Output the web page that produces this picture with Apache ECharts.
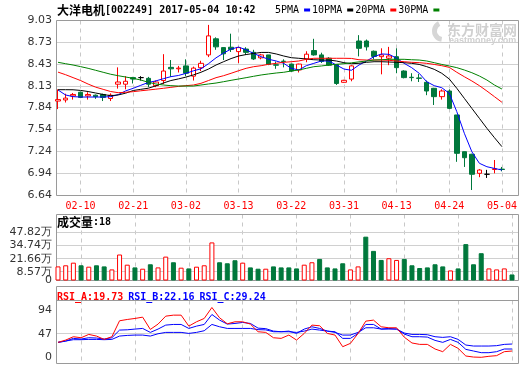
<!DOCTYPE html>
<html><head><meta charset="utf-8">
<script src="https://cdn.jsdelivr.net/npm/echarts@6/dist/echarts.min.js"></script>
<style>html,body{margin:0;padding:0;background:#fff}#c{width:520px;height:365px}</style>
</head><body><div id="c"></div>
<script>
const dates = ['02-07','02-08','02-09','02-10','02-13','02-14','02-15','02-16','02-17','02-20','02-21','02-22','02-23','02-24','02-27','02-28',
'03-01','03-02','03-03','03-06','03-07','03-08','03-09','03-10','03-13','03-14','03-15','03-16','03-17','03-20','03-21','03-22','03-23','03-24','03-27','03-28','03-29','03-30','03-31',
'04-05','04-06','04-07','04-10','04-11','04-12','04-13','04-14','04-17','04-18','04-19','04-20','04-21','04-24','04-25','04-26','04-27','04-28',
'05-02','05-03','05-04'];
const open  = [7.93,7.945,8.00,8.05,8.00,8.01,8.02,7.965,8.16,8.16,8.25,8.25,8.24,8.14,8.21,8.39,8.37,8.41,8.27,8.385,8.56,8.78,8.66,8.665,8.605,8.64,8.595,8.52,8.56,8.425,8.475,8.435,8.355,8.505,8.62,8.56,8.515,8.43,8.186,8.23,8.75,8.75,8.61,8.536,8.515,8.536,8.34,8.255,8.245,8.186,8.104,7.99,8.067,7.74,7.238,7.203,6.943,6.93,6.995,7.00];
const close = [7.95,7.97,8.02,7.98,8.02,7.99,7.98,8.01,8.19,8.20,8.23,8.25,8.16,8.19,8.34,8.37,8.38,8.31,8.38,8.445,8.82,8.67,8.575,8.635,8.66,8.595,8.505,8.56,8.43,8.42,8.47,8.34,8.435,8.57,8.56,8.47,8.42,8.17,8.213,8.41,8.65,8.67,8.54,8.56,8.545,8.386,8.25,8.25,8.24,8.067,7.99,8.067,7.83,7.216,7.156,6.93,6.988,6.93,7.005,6.995];
const low   = [7.82,7.91,7.95,7.97,7.95,7.96,7.93,7.93,8.10,8.09,8.17,8.21,8.12,8.12,8.16,8.26,8.32,8.27,8.21,8.34,8.53,8.63,8.49,8.60,8.45,8.56,8.49,8.50,8.42,8.37,8.39,8.33,8.32,8.46,8.55,8.45,8.41,8.15,8.18,8.20,8.54,8.62,8.50,8.295,8.42,8.31,8.24,8.20,8.19,8.01,7.876,7.95,7.82,7.10,7.03,6.715,6.89,6.88,6.943,6.97];
const high  = [8.09,8.03,8.04,8.06,8.05,8.02,8.03,8.035,8.39,8.27,8.26,8.27,8.26,8.21,8.57,8.49,8.41,8.50,8.40,8.48,8.97,8.80,8.665,8.85,8.67,8.665,8.63,8.575,8.56,8.47,8.50,8.44,8.44,8.61,8.78,8.59,8.53,8.43,8.22,8.42,8.83,8.77,8.62,8.65,8.67,8.65,8.35,8.31,8.30,8.21,8.11,8.09,8.09,7.74,7.24,7.21,7.00,6.99,7.125,7.03];
const ma5  = [8.081,8.013,7.99,7.985,7.985,7.985,7.985,7.99,8.018,8.069,8.104,8.145,8.183,8.205,8.235,8.263,8.279,8.308,8.343,8.37,8.44,8.52,8.585,8.64,8.667,8.63,8.58,8.536,8.50,8.477,8.445,8.377,8.354,8.413,8.445,8.477,8.477,8.422,8.367,8.35,8.422,8.477,8.536,8.573,8.568,8.514,8.445,8.386,8.309,8.194,8.14,8.112,8.036,7.785,7.49,7.238,7.08,7.033,7.01,6.988];
const ma10 = [8.085,8.085,8.084,8.075,8.06,8.04,8.02,8.003,8.013,8.038,8.074,8.09,8.105,8.137,8.176,8.21,8.232,8.257,8.287,8.323,8.367,8.422,8.467,8.51,8.545,8.565,8.58,8.594,8.594,8.573,8.545,8.522,8.514,8.504,8.494,8.49,8.49,8.477,8.454,8.44,8.445,8.459,8.467,8.467,8.463,8.459,8.454,8.445,8.43,8.40,8.363,8.309,8.231,8.104,7.967,7.83,7.694,7.558,7.43,7.307];
const ma20 = [8.325,8.29,8.25,8.21,8.162,8.12,8.09,8.06,8.044,8.05,8.058,8.07,8.081,8.092,8.104,8.117,8.13,8.14,8.149,8.172,8.21,8.249,8.276,8.309,8.344,8.377,8.399,8.413,8.432,8.445,8.459,8.467,8.477,8.50,8.514,8.514,8.514,8.514,8.514,8.512,8.494,8.49,8.49,8.49,8.486,8.477,8.467,8.459,8.454,8.445,8.43,8.413,8.39,8.323,8.262,8.204,8.14,8.067,7.99,7.913];
const ma30 = [8.459,8.44,8.422,8.40,8.377,8.35,8.323,8.296,8.276,8.258,8.24,8.217,8.186,8.163,8.149,8.14,8.135,8.135,8.135,8.149,8.163,8.176,8.194,8.213,8.231,8.249,8.268,8.286,8.30,8.313,8.323,8.34,8.354,8.377,8.399,8.409,8.422,8.432,8.44,8.452,8.465,8.477,8.49,8.494,8.50,8.50,8.50,8.494,8.49,8.477,8.454,8.43,8.409,8.386,8.354,8.317,8.272,8.217,8.149,8.094];
const volume = [14.0,15.1,17.7,15.1,13.7,15.1,14.0,11.0,25.8,15.7,13.0,11.7,16.1,13.0,23.7,18.1,12.7,12.0,13.7,15.1,37.8,18.1,17.1,20.1,17.7,13.0,11.7,11.7,14.0,13.0,13.0,12.0,15.7,18.1,21.4,13.0,12.0,17.1,11.0,14.0,43.5,29.4,20.4,22.1,20.4,21.4,15.1,12.4,13.0,16.1,14.0,10.0,12.0,36.1,16.1,27.1,12.0,11.0,12.0,6.0];
const rsiA = [29.7,34.3,40.9,38.9,45.5,42.2,35.6,40.9,72.6,75.2,77.2,79.8,55.4,66,81.8,83.8,83.8,62,70.6,77.2,99,78.5,66.6,70.6,70.6,66,50.8,49.5,38.9,37.6,44.2,34.3,47.5,64,62.7,47.5,44.2,21.1,27.7,47.5,71.9,73.9,60.7,58.7,58.7,40,28.5,25.7,25.7,16.5,11.2,25.7,17.8,2.6,0.5,0,2,3.3,11.2,12.5];
const rsiB = [29.7,32.3,37.6,36.3,38.9,38.3,36.3,38.9,54.1,54.7,56.1,57.4,49.5,56.1,64,65.3,65.3,57.4,62,65.3,85.1,73.9,66,67.3,69.3,67.3,58,57,52.1,50.8,52.1,47.5,56.1,60.7,57.4,52.1,50.8,37.6,37.6,47.5,65.3,65.3,56.1,57.4,56.1,46.2,40.9,40.9,40.2,33.6,29.7,35.6,29.7,15.8,12.5,9.2,9.2,11.2,16.5,16.5];
const rsiC = [29.7,32.3,35,35,35.6,35.6,35,35.6,42.2,43.5,44.2,44.2,42.2,46.8,49.5,49.5,49.5,47.5,49.5,52.8,65.3,60.7,57.4,57.4,57.4,57.4,55,54.5,50.8,50.8,50.8,49.5,52.1,56.1,54.1,52.1,49.5,44.2,44.2,49.5,58.7,58.7,56.1,56.1,56.1,48.2,45.5,45.5,44.9,40.9,39.6,40.9,35.6,24.4,22.4,22.4,22.4,23.1,25.7,26.4];
const priceTicks = ['9.03','8.73','8.43','8.13','7.84','7.54','7.24','6.94','6.64'];
const volTicks = ['47.82','34.74','21.66','8.57','0'];
const rsiTicks = ['94','47','0'];

const RED = '#ff0000', GREEN = '#00783c', BLUE = '#0000ff';
const candles = dates.map((d, i) => [open[i], close[i], low[i], high[i]]);
const volData = volume.map((v, i) => ({
  value: v,
  itemStyle: close[i] >= open[i] ? {color: '#fff', borderColor: RED, borderWidth: 1} : {color: GREEN, borderColor: GREEN, borderWidth: 1}
}));

const chart = echarts.init(document.getElementById('c'), null, {renderer: 'canvas', devicePixelRatio: 1});
const monoFont = 'DejaVu Sans Mono';
const cjkFont = 'Noto Sans CJK SC';
const showIdx = (i) => i % 7 === 3;
function xAx(g, labels) {
  return {
    type: 'category', gridIndex: g, data: dates, boundaryGap: false,
    axisLine: {show: false}, axisTick: {show: false},
    axisLabel: labels ? {interval: showIdx, color: RED, fontFamily: monoFont, fontSize: 10, margin: 6} : {show: false},
    splitLine: {show: true, interval: showIdx, lineStyle: {color: '#c8c8c8', type: [4, 4], width: 1}}
  };
}
function maLine(name, data, color) {
  return {name, type: 'line', xAxisIndex: 0, yAxisIndex: 0, data, symbol: 'none', smooth: false,
    lineStyle: {color, width: 1}, itemStyle: {color}, color, z: 3};
}
function rsiLine(name, data, color) {
  return {name, type: 'line', xAxisIndex: 2, yAxisIndex: 2, data, symbol: 'none',
    lineStyle: {color, width: 1}, itemStyle: {color}, color, z: 3};
}

chart.setOption({
  animation: false,
  title: [
    {text: '{c|大洋电机}{a|[002249] 2017-05-04 10:42}', left: 57, top: 4, padding: 0,
     textStyle: {rich: {c: {fontFamily: cjkFont, fontSize: 12, color: '#000'}, a: {fontFamily: monoFont, fontSize: 10, color: '#000'}}}},
    {text: '{c|成交量}{a|:18}', left: 57, top: 216, padding: 0,
     textStyle: {rich: {c: {fontFamily: cjkFont, fontSize: 12, color: '#000'}, a: {fontFamily: monoFont, fontSize: 10, color: '#000'}}}},
    {text: '{r|RSI_A:19.73} {b|RSI_B:22.16} {b|RSI_C:29.24}', left: 57, top: 288, padding: 0,
     textStyle: {rich: {r: {fontFamily: monoFont, fontSize: 10, color: RED}, b: {fontFamily: monoFont, fontSize: 10, color: BLUE}}}}
  ],
  legend: {
    data: ['5PMA', '10PMA', '20PMA', '30PMA'], left: 275, top: 5, padding: 0,
    align: 'right', icon: 'rect', itemWidth: 6, itemHeight: 3, itemGap: 2, selectedMode: false,
    textStyle: {fontFamily: monoFont, fontSize: 10, color: '#000'}
  },
  grid: [
    {left: 58, right: 8, top: 20.5, height: 175},
    {left: 58, right: 8, top: 214.5, height: 66},
    {left: 58, right: 8, top: 300.5, height: 63}
  ],
  xAxis: [xAx(0, true), xAx(1, false), xAx(2, false)],
  yAxis: [
    {type: 'value', gridIndex: 0, min: 6.64, max: 9.03, show: false},
    {type: 'value', gridIndex: 1, min: 0, max: 65.5, show: false},
    {type: 'value', gridIndex: 2, min: -12.3, max: 112.9, show: false}
  ],
  series: [
    {name: 'K', type: 'candlestick', xAxisIndex: 0, yAxisIndex: 0, data: candles, barWidth: 5, clip: false,
     itemStyle: {color: '#fff', color0: GREEN, borderColor: RED, borderColor0: GREEN, borderColorDoji: '#000', borderWidth: 1}},
    maLine('5PMA', ma5, BLUE),
    maLine('10PMA', ma10, '#000'),
    maLine('20PMA', ma20, RED),
    maLine('30PMA', ma30, '#008000'),
    {name: 'VOL', type: 'bar', xAxisIndex: 1, yAxisIndex: 1, data: volData, barWidth: 5, clip: false},
    rsiLine('RSI_C', rsiC, BLUE),
    rsiLine('RSI_B', rsiB, BLUE),
    rsiLine('RSI_A', rsiA, RED)
  ]
});

// grid lines, tick labels and panel frames from the library's own scales
const L = 56.5, R = 518.5;
const gfx = [];
const labelFont = '11px "DejaVu Sans"';
function hLine(y, color, z) {
  gfx.push({type: 'line', z: z, silent: true, shape: {x1: L, y1: y, x2: R, y2: y}, style: {stroke: color, lineWidth: 1}});
}
function tickLabel(y, text) {
  gfx.push({type: 'text', z: 1, silent: true, style: {text, x: 52, y, align: 'right', verticalAlign: 'middle', font: labelFont, fill: '#333'}});
}
priceTicks.forEach(t => {
  const y = chart.convertToPixel({yAxisIndex: 0}, +t);
  hLine(Math.floor(y) + 0.5, '#d0d0d0', 0);
  tickLabel(y, t);
});
volTicks.forEach(t => {
  const y = chart.convertToPixel({yAxisIndex: 1}, +t);
  if (+t !== 0) hLine(Math.floor(y) + 0.5, '#d0d0d0', 0);
  tickLabel(y, +t === 0 ? '0' : t + '万');
});
rsiTicks.forEach(t => {
  const y = chart.convertToPixel({yAxisIndex: 2}, +t);
  if (t === '47') hLine(Math.floor(y) + 0.5, '#d0d0d0', 0);
  tickLabel(y, t);
});
function frame(t, b) {
  gfx.push({type: 'rect', z: 1, silent: true, shape: {x: L, y: t, width: R - L, height: b - t}, style: {fill: 'none', stroke: '#9a9a9a', lineWidth: 1}});
}
frame(20.5, 195.5);
frame(214.5, 280.5);
frame(286.5, 363.5);
hLine(300.5, '#9a9a9a', 1);
// watermark
gfx.push({type: 'sector', z: 0, silent: true, shape: {cx: 443, cy: 31, r: 11, r0: 6, startAngle: Math.PI * 0.55, endAngle: Math.PI * 1.35}, style: {fill: '#d6d6d6'}});
gfx.push({type: 'text', z: 0, silent: true, style: {text: '东方财富网', x: 447, y: 30, verticalAlign: 'middle', font: 'bold 14px "Noto Sans CJK SC"', fill: '#d0d0d0'}});
gfx.push({type: 'text', z: 0, silent: true, style: {text: 'eastmoney.com', x: 449, y: 40.5, verticalAlign: 'middle', font: 'bold 9px "Liberation Sans"', fill: '#d0d0d0'}});
chart.setOption({graphic: gfx});
</script>
</body></html>
